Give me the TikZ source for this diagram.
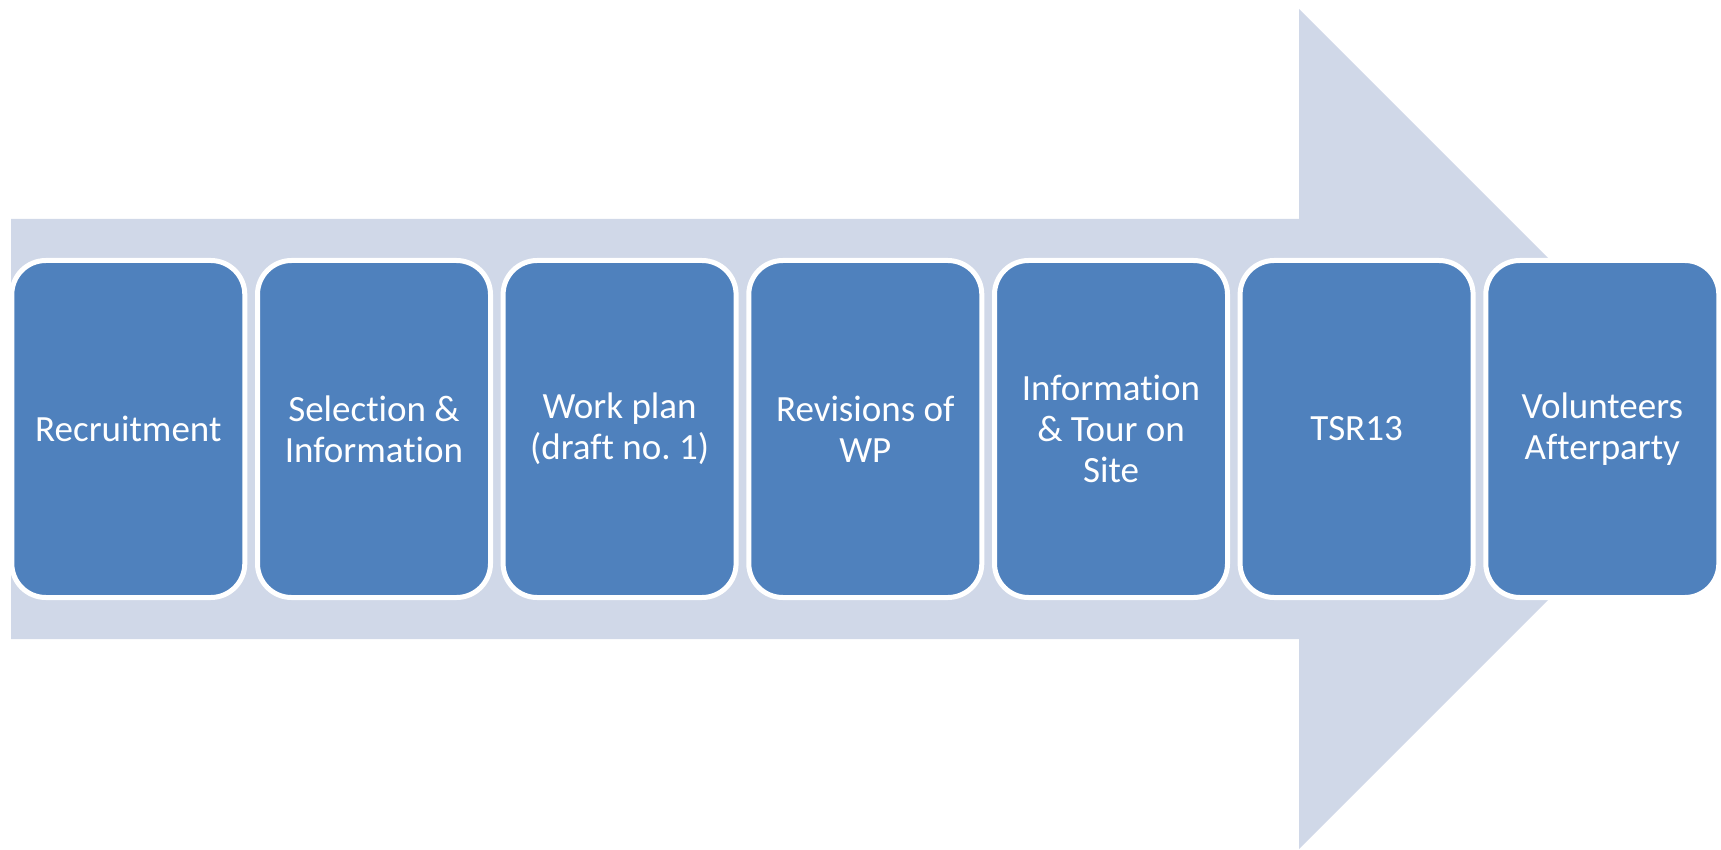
\documentclass[tikz,border=0pt]{standalone}
\usepackage{fontspec}
\setmainfont[Ligatures=NoCommon]{Carlito}
\frenchspacing
\definecolor{arrowfill}{HTML}{D0D8E8}
\definecolor{boxblue}{HTML}{4F81BD}
\begin{document}
\begin{tikzpicture}[x=1pt,y=-1pt,
  stepbox/.style={draw=white, line width=5pt, fill=boxblue, rounded corners=34pt,
    minimum width=233pt, minimum height=337pt, inner sep=0pt, text=white,
    align=center, font=\fontsize{37}{41}\selectfont, anchor=center}]
\useasboundingbox (0,0) rectangle (1721,850);
\fill[arrowfill] (11,219) -- (1299,219) -- (1299,9) -- (1719,429) -- (1299,849) -- (1299,639) -- (11,639) -- cycle;
\node[stepbox] (s1) at (128.3,429) {Recruitment};
\node[stepbox] (s2) at (374.0,429) {Selection \&\\Information};
\node[stepbox] (s3) at (619.6,429) {Work plan\\(draft no.\ 1)};
\node[stepbox] (s4) at (865.3,429) {Revisions of\\WP};
\node[stepbox] (s5) at (1111.0,429) {Information\\\& Tour on\\Site};
\node[stepbox] (s6) at (1356.6,429) {TSR13};
\node[stepbox] (s7) at (1602.3,429) {Volunteers\\Afterparty};
\end{tikzpicture}
\end{document}
